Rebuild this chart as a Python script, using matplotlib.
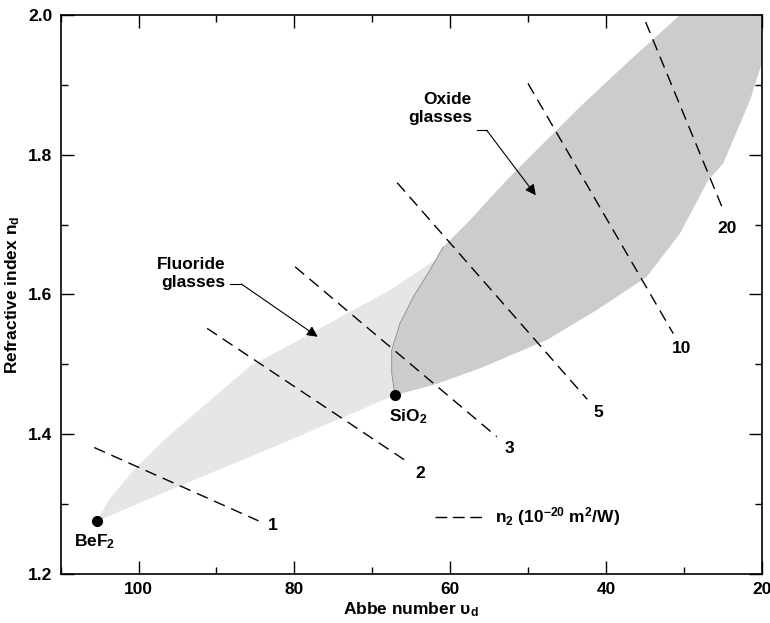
import matplotlib
matplotlib.use('Agg')
import matplotlib.pyplot as plt
from matplotlib.ticker import MultipleLocator

plt.rcParams['font.family'] = ['Liberation Sans', 'DejaVu Sans']
plt.rcParams['font.weight'] = 'bold'
plt.rcParams['mathtext.fontset'] = 'custom'
plt.rcParams['mathtext.rm'] = 'Liberation Sans:bold'
plt.rcParams['mathtext.it'] = 'Liberation Sans:bold'
plt.rcParams['mathtext.bf'] = 'Liberation Sans:bold'
plt.rcParams['mathtext.sf'] = 'Liberation Sans:bold'
plt.rcParams['mathtext.default'] = 'rm'

# ---- data ----
# Fluoride glasses region (Abbe number, refractive index)
fluoride_v = [105.4, 103.67, 100.24, 95.54, 91.25, 85.70, 78.42, 72.86, 67.72, 61.30, 61.08,
              58.0, 62.0, 67.08, 80.56, 93.40, 105.4]
fluoride_n = [1.2754, 1.3083, 1.3535, 1.4036, 1.4442, 1.4976, 1.5405, 1.5753, 1.6063, 1.6539, 1.6635,
              1.64, 1.48, 1.456, 1.3917, 1.332, 1.2754]

# Oxide glasses region
oxide_v = [67.08, 67.50, 67.50, 66.44, 64.73, 62.59, 60.88, 57.45, 52.74, 43.33, 36.91, 30.49, 20.0,
           20.0, 21.5, 24.93, 26.86, 30.49, 34.76, 41.18, 47.60, 56.17, 62.16, 67.08]
oxide_n = [1.456, 1.4871, 1.5205, 1.5587, 1.5967, 1.6349, 1.6682, 1.7064, 1.7637, 1.8685, 1.9353, 2.0, 2.0,
           1.9306, 1.878, 1.7876, 1.7637, 1.6874, 1.6253, 1.5777, 1.5348, 1.4943, 1.4704, 1.456]

# Oxide left edge (border with fluoride region)
edge_v = [67.08, 67.50, 67.50, 66.44, 64.73, 62.59, 60.88]
edge_n = [1.456, 1.4871, 1.5205, 1.5587, 1.5967, 1.6349, 1.6682]

# n2 iso-lines (10^-20 m^2/W)
n2_labels = ['1', '2', '3', '5', '10', '20']
n2_v_start = [105.7, 91.2, 79.9, 66.8, 50.0, 34.9]
n2_n_start = [1.381, 1.5515, 1.6396, 1.760, 1.902, 1.990]
n2_v_end = [84.6, 65.15, 54.0, 42.4, 31.35, 24.9]
n2_n_end = [1.276, 1.358, 1.3964, 1.450, 1.544, 1.720]
n2_v_lab = [82.78, 63.87, 52.44, 40.98, 30.27, 24.39]
n2_n_lab = [1.2687, 1.3445, 1.3798, 1.4313, 1.5229, 1.6946]

# Reference glasses
glass_names = ['BeF$_2$', 'SiO$_2$']
glass_v = [105.4, 67.08]
glass_n = [1.2754, 1.456]

FS = 12.5
fig = plt.figure(figsize=(7.7, 6.23), dpi=100)
ax = fig.add_axes([0.0788, 0.0787, 0.9892 - 0.0788, 0.9759 - 0.0787])

ax.fill(fluoride_v, fluoride_n, color='#e6e6e6', lw=0, zorder=1)
ax.fill(oxide_v, oxide_n, color='#cccccc', lw=0, zorder=2)
ax.plot(edge_v, edge_n, color='#8a8a8a', lw=0.6, zorder=2.5)

for vs, ns, ve, ne, lab, vl, nl in zip(n2_v_start, n2_n_start, n2_v_end, n2_n_end,
                                       n2_labels, n2_v_lab, n2_n_lab):
    ax.plot([vs, ve], [ns, ne], color='black', lw=1.0, linestyle=(0, (8.5, 5)), zorder=3)
    ax.text(vl, nl, lab, ha='center', va='center', fontsize=FS, fontweight='bold', zorder=4)

ax.plot(glass_v, glass_n, 'o', color='black', ms=7, zorder=5)
ax.text(108.3, 1.239, glass_names[0], ha='left', va='baseline', fontsize=FS, fontweight='bold')
ax.text(67.9, 1.418, glass_names[1], ha='left', va='baseline', fontsize=FS, fontweight='bold')

# Legend-like annotation
ax.plot([61.94, 55.91], [1.282, 1.282], color='black', lw=1.0, linestyle=(0, (8.5, 4)))
ax.text(54.3, 1.282, 'n$_2$ (10$^{-20}$ m$^2$/W)', ha='left', va='center', fontsize=FS,
        fontweight='bold')

# Region labels with arrows
ax.text(88.9, 1.6306, 'Fluoride\nglasses', ha='right', va='center', multialignment='right',
        fontsize=FS, fontweight='bold', linespacing=1.25)
ax.plot([88.25, 86.8], [1.615, 1.615], color='black', lw=0.8)
ax.annotate('', xy=(77.0, 1.5395), xytext=(86.8, 1.615),
            arrowprops=dict(arrowstyle='-|>', color='black', lw=0.8,
                            mutation_scale=16, shrinkA=0, shrinkB=0))

ax.text(57.2, 1.8655, 'Oxide\nglasses', ha='right', va='center', multialignment='right',
        fontsize=FS, fontweight='bold', linespacing=1.25)
ax.plot([56.6, 55.3], [1.835, 1.835], color='black', lw=0.8)
ax.annotate('', xy=(49.0, 1.742), xytext=(55.3, 1.835),
            arrowprops=dict(arrowstyle='-|>', color='black', lw=0.8,
                            mutation_scale=16, shrinkA=0, shrinkB=0))

ax.set_xlim(110, 20)
ax.set_ylim(1.2, 2.0)
ax.xaxis.set_minor_locator(MultipleLocator(10))
ax.yaxis.set_minor_locator(MultipleLocator(0.1))
ax.set_xticks([100, 80, 60, 40, 20])
ax.set_xticklabels(['100', '80', '60', '40', '20'], fontweight='bold')
ax.set_yticks([1.2, 1.4, 1.6, 1.8, 2.0])
ax.set_yticklabels(['1.2', '1.4', '1.6', '1.8', '2.0'], fontweight='bold')
ax.tick_params(which='both', direction='in', top=True, right=True, width=1.0,
               labelsize=12.5)
ax.tick_params(which='major', length=9.5, pad=6)
ax.tick_params(which='minor', length=5)
for s in ax.spines.values():
    s.set_linewidth(1.2)

ax.set_xlabel('Abbe number $\\upsilon_d$', fontsize=FS, fontweight='bold', labelpad=2)
ax.set_ylabel('Refractive index n$_d$', fontsize=FS, fontweight='bold', labelpad=4)

fig.savefig('out.png', dpi=100)
